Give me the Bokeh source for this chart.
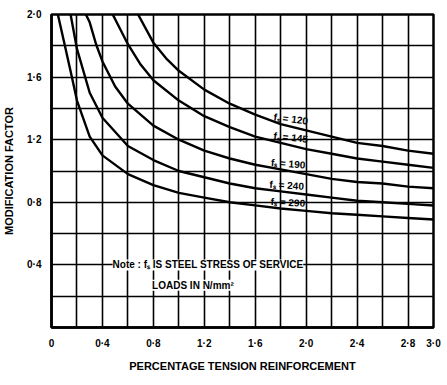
from bokeh.plotting import figure
from bokeh.models import FixedTicker, Label, Range1d
from bokeh.embed import file_html
from bokeh.resources import INLINE

# ---- data ----
pt_120 = [0.68, 0.8, 0.9, 1.0, 1.2, 1.4, 1.6, 1.8, 2.0, 2.2, 2.4, 2.6, 2.8, 3.0]
mf_120 = [2.0, 1.82, 1.72, 1.64, 1.52, 1.43, 1.36, 1.30, 1.26, 1.22, 1.18, 1.16, 1.13, 1.11]

pt_145 = [0.48, 0.5, 0.6, 0.7, 0.8, 1.0, 1.2, 1.4, 1.6, 1.8, 2.0, 2.2, 2.4, 2.6, 2.8, 3.0]
mf_145 = [2.0, 1.97, 1.81, 1.68, 1.58, 1.45, 1.35, 1.28, 1.22, 1.18, 1.14, 1.11, 1.08, 1.06, 1.04, 1.02]

pt_190 = [0.27, 0.3, 0.35, 0.4, 0.5, 0.6, 0.8, 1.0, 1.2, 1.4, 1.6, 1.8, 2.0, 2.2, 2.4, 2.6, 2.8, 3.0]
mf_190 = [2.0, 1.95, 1.81, 1.70, 1.54, 1.43, 1.29, 1.20, 1.13, 1.08, 1.04, 1.01, 0.98, 0.95, 0.93, 0.92, 0.90, 0.89]

pt_240 = [0.15, 0.2, 0.3, 0.4, 0.6, 0.8, 1.0, 1.2, 1.4, 1.6, 1.8, 2.0, 2.2, 2.4, 2.6, 2.8, 3.0]
mf_240 = [2.0, 1.78, 1.50, 1.34, 1.16, 1.07, 1.00, 0.96, 0.92, 0.89, 0.87, 0.85, 0.83, 0.81, 0.80, 0.79, 0.78]

pt_290 = [0.05, 0.1, 0.16, 0.2, 0.3, 0.4, 0.6, 0.8, 1.0, 1.2, 1.4, 1.6, 1.8, 2.0, 2.2, 2.4, 2.6, 2.8, 3.0]
mf_290 = [2.0, 1.82, 1.60, 1.45, 1.22, 1.10, 0.98, 0.91, 0.86, 0.83, 0.80, 0.78, 0.76, 0.745, 0.73, 0.72, 0.71, 0.70, 0.69]

curve_x = [pt_120, pt_145, pt_190, pt_240, pt_290]
curve_y = [mf_120, mf_145, mf_190, mf_240, mf_290]
curve_names = ["fₛ = 120", "fₛ = 145", "fₛ = 190", "fₛ = 240", "fₛ = 290"]
label_x = [1.74, 1.74, 1.72, 1.71, 1.72]
label_y = [1.31, 1.19, 1.02, 0.88, 0.77]
label_angle = [-0.12, -0.10, -0.08, -0.06, -0.05]

x_ticks = [0, 0.4, 0.8, 1.2, 1.6, 2.0, 2.4, 2.8, 3.0]
x_tick_labels = ["0", "0·4", "0·8", "1·2", "1·6", "2·0", "2·4", "2·8", "3·0"]
y_ticks = [0.4, 0.8, 1.2, 1.6, 2.0]
y_tick_labels = ["0·4", "0·8", "1·2", "1·6", "2·0"]
x_grid = [0.2, 0.4, 0.6, 0.8, 1.0, 1.2, 1.4, 1.6, 1.8, 2.0, 2.2, 2.4, 2.6, 2.8]
y_grid = [0.2, 0.4, 0.6, 0.8, 1.0, 1.2, 1.4, 1.6, 1.8]

FONT = "Liberation Sans"

p = figure(frame_width=382, frame_height=313,
           x_range=Range1d(0, 3.0), y_range=Range1d(0, 2.0),
           output_backend="svg", toolbar_location=None,
           min_border_left=10, min_border_top=14, min_border_right=14, min_border_bottom=10,
           background_fill_color="white", border_fill_color="white")

p.outline_line_color = "black"
p.outline_line_width = 2.5

p.xaxis.ticker = FixedTicker(ticks=x_ticks)
p.xaxis.major_label_overrides = {t: l for t, l in zip(x_ticks, x_tick_labels)}
p.yaxis.ticker = FixedTicker(ticks=y_ticks)
p.yaxis.major_label_overrides = {t: l for t, l in zip(y_ticks, y_tick_labels)}

for ax in (p.xaxis, p.yaxis):
    ax.axis_line_color = "black"
    ax.axis_line_width = 2.5
    ax.major_tick_line_color = None
    ax.minor_tick_line_color = None
    ax.major_label_text_font = FONT
    ax.major_label_text_font_style = "bold"
    ax.major_label_text_font_size = "10px"
    ax.major_label_text_color = "black"
    ax.axis_label_text_font = FONT
    ax.axis_label_text_font_style = "bold"
    ax.axis_label_text_font_size = "11px"
    ax.axis_label_text_color = "black"
    ax.major_label_standoff = 4

p.xaxis.axis_label = "PERCENTAGE TENSION REINFORCEMENT"
p.yaxis.axis_label = "MODIFICATION FACTOR"
p.xaxis.axis_label_standoff = 8
p.yaxis.axis_label_standoff = 9

p.xgrid.ticker = FixedTicker(ticks=x_grid)
p.ygrid.ticker = FixedTicker(ticks=y_grid)
for g in (p.xgrid, p.ygrid):
    g.grid_line_color = "black"
    g.grid_line_width = 1.6
    g.grid_line_alpha = 1.0

for xs, ys in zip(curve_x, curve_y):
    p.line(xs, ys, line_color="black", line_width=2.4)

for name, lx, ly, ang in zip(curve_names, label_x, label_y, label_angle):
    p.add_layout(Label(x=lx, y=ly, text=name, angle=ang, text_align="left",
                       text_baseline="bottom", text_font=FONT, text_font_style="bold",
                       text_font_size="10px", text_color="black"))

p.add_layout(Label(x=0.48, y=0.40, text="Note : fₛ IS STEEL STRESS OF SERVICE",
                   text_align="left", text_baseline="middle", text_font=FONT,
                   text_font_style="bold", text_font_size="10px", text_color="black",
                   background_fill_color="white"))
p.add_layout(Label(x=0.79, y=0.27, text="LOADS IN N/mm²",
                   text_align="left", text_baseline="middle", text_font=FONT,
                   text_font_style="bold", text_font_size="10px", text_color="black",
                   background_fill_color="white"))

open("out.html", "w").write(file_html(p, INLINE))
